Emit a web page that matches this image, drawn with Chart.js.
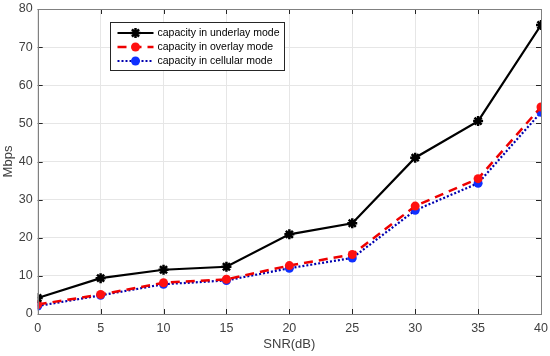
<!DOCTYPE html>
<html>
<head>
<meta charset="utf-8">
<script src="https://cdn.jsdelivr.net/npm/chart.js@4"></script>
<style>
html,body{margin:0;padding:0;background:#fff;}
#wrap{width:550px;height:356px;position:relative;}
</style>
</head>
<body>
<div id="wrap"><canvas id="c" width="550" height="356"></canvas></div>
<script>
const snr = [0, 5, 10, 15, 20, 25, 30, 35, 40];
const underlay = [4.2, 9.4, 11.6, 12.4, 20.9, 23.8, 41.0, 50.6, 75.8];
const overlay = [2.5, 5.1, 8.2, 9.1, 12.7, 15.6, 28.3, 35.5, 54.3];
const cellular = [2.1, 4.9, 7.8, 8.8, 12.0, 14.7, 27.2, 34.3, 52.9];
const seriesNames = ['capacity in underlay mode', 'capacity in overlay mode', 'capacity in cellular mode'];
const xTicks = [0, 5, 10, 15, 20, 25, 30, 35, 40];
const yTicks = [0, 10, 20, 30, 40, 50, 60, 70, 80];

const pts = arr => snr.map((x, i) => ({x: x, y: arr[i]}));
const FONT = '"Liberation Sans", Arial, sans-serif';

const frame = {
  id: 'frame',
  afterDraw(chart) {
    const {ctx, chartArea: a, scales: {x, y}} = chart;
    ctx.save();
    ctx.strokeStyle = '#262626';
    ctx.lineWidth = 1;
    ctx.beginPath();
    xTicks.forEach(v => {
      const px = Math.round(x.getPixelForValue(v)) + 0.5;
      ctx.moveTo(px, a.bottom); ctx.lineTo(px, a.bottom - 5);
      ctx.moveTo(px, a.top); ctx.lineTo(px, a.top + 5);
    });
    yTicks.forEach(v => {
      const py = Math.round(y.getPixelForValue(v)) + 0.5;
      ctx.moveTo(a.left, py); ctx.lineTo(a.left + 5, py);
      ctx.moveTo(a.right, py); ctx.lineTo(a.right - 5, py);
    });
    ctx.stroke();
    ctx.strokeStyle = '#808080';
    ctx.strokeRect(Math.round(a.left) + 0.5, Math.round(a.top) + 0.5, Math.round(a.right - a.left), Math.round(a.bottom - a.top));

    // legend
    const lx = 110.5, ly = 22.5, lw = 174, lh = 48;
    ctx.fillStyle = '#fff';
    ctx.fillRect(lx, ly, lw, lh);
    ctx.strokeStyle = '#262626';
    ctx.lineWidth = 1;
    ctx.strokeRect(lx, ly, lw, lh);
    ctx.font = '10.5px ' + FONT;
    ctx.textBaseline = 'middle';
    chart.data.datasets.forEach((ds, i) => {
      const yy = ly + 10.5 + i * 14;
      ctx.save();
      ctx.strokeStyle = ds.borderColor;
      ctx.lineWidth = ds.borderWidth;
      ctx.setLineDash(ds.borderDash || []);
      ctx.beginPath();
      ctx.moveTo(lx + 7, yy); ctx.lineTo(lx + 43, yy);
      ctx.stroke();
      ctx.setLineDash([]);
      ctx.fillStyle = ds.pointBackgroundColor;
      ctx.strokeStyle = ds.pointBorderColor;
      if (ds.pointStyle === 'circle') {
        ctx.beginPath();
        ctx.arc(lx + 25, yy, ds.pointRadius, 0, Math.PI * 2);
        ctx.fill();
      } else {
        ctx.lineWidth = ds.pointBorderWidth;
        Chart.helpers.drawPoint(ctx, {pointStyle: ds.pointStyle, radius: ds.pointRadius, borderWidth: ds.pointBorderWidth, rotation: 0}, lx + 25, yy);
        ctx.beginPath();
        ctx.arc(lx + 25, yy, 2.5, 0, Math.PI * 2);
        ctx.fill();
      }
      ctx.restore();
      ctx.fillStyle = '#000';
      ctx.fillText(seriesNames[i], lx + 47, yy + 0.5);
    });
    ctx.restore();
  }
};

new Chart(document.getElementById('c'), {
  type: 'line',
  data: {
    datasets: [
      {
        label: seriesNames[0], data: pts(underlay),
        borderColor: '#000', borderWidth: 2.2,
        pointStyle: 'star', pointRadius: 5, pointBorderWidth: 2.5,
        pointBorderColor: '#000', pointBackgroundColor: '#000'
      },
      {
        label: seriesNames[1], data: pts(overlay),
        borderColor: '#ee0000', borderWidth: 2.5, borderDash: [9, 6],
        pointStyle: 'circle', pointRadius: 4.5, pointBorderWidth: 0,
        pointBorderColor: '#ff0000', pointBackgroundColor: '#ff1010'
      },
      {
        label: seriesNames[2], data: pts(cellular),
        borderColor: '#0000b0', borderWidth: 2.2, borderDash: [2, 2],
        pointStyle: 'circle', pointRadius: 4.5, pointBorderWidth: 0,
        pointBorderColor: '#1030ff', pointBackgroundColor: '#1030ff'
      }
    ]
  },
  options: {
    responsive: false,
    animation: false,
    layout: {padding: {top: 9, right: 9, left: 0, bottom: 0}},
    plugins: {legend: {display: false}, tooltip: {enabled: false}},
    elements: {line: {tension: 0}},
    scales: {
      x: {
        type: 'linear', min: 0, max: 40,
        afterBuildTicks: s => { s.ticks = xTicks.map(v => ({value: v})); },
        afterFit: s => { s.height = 42; s.paddingLeft = 0; s.paddingRight = 0; },
        grid: {color: '#e6e6e6', drawTicks: false},
        border: {display: false},
        ticks: {color: '#404040', padding: 7, maxRotation: 0, font: {family: FONT, size: 12.5}},
        title: {display: true, text: 'SNR(dB)', color: '#404040', padding: {top: 0}, font: {family: FONT, size: 13}}
      },
      y: {
        min: 0, max: 80,
        afterBuildTicks: s => { s.ticks = yTicks.map(v => ({value: v})); },
        afterFit: s => { s.width = 37.7; s.paddingTop = 0; s.paddingBottom = 0; },
        grid: {color: '#e6e6e6', drawTicks: false},
        border: {display: false},
        ticks: {color: '#404040', padding: 5, font: {family: FONT, size: 12.5}},
        title: {display: true, text: 'Mbps', color: '#404040', padding: {bottom: 0, top: 1}, font: {family: FONT, size: 13}}
      }
    }
  },
  plugins: [frame]
});
</script>
</body>
</html>
